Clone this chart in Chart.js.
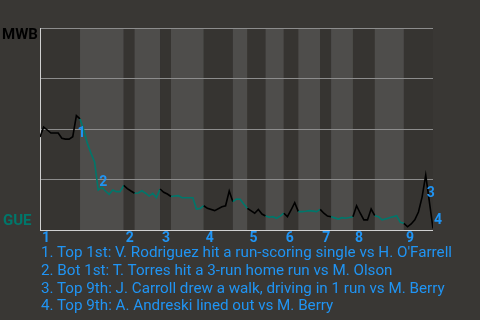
<!DOCTYPE html>
<html>
<head>
<meta charset="utf-8">
<script src="https://cdn.jsdelivr.net/npm/chart.js@4.4.1/dist/chart.umd.min.js"></script>
<style>
  html, body { margin: 0; padding: 0; background: #393734; }
  #wrap { position: relative; width: 480px; height: 320px; }
  #notes {
    position: absolute; left: 41px; top: 244px;
    font: 15.2px Roboto, sans-serif; line-height: 17.8px; color: #2094f3;
    white-space: nowrap;
  }
</style>
</head>
<body>
<div id="wrap">
  <canvas id="wpChart" width="480" height="320"></canvas>
  <div id="notes"></div>
</div>
<script>
// plate appearance index and MWB win probability
const paIndex = [0, 1, 3, 5, 6, 7, 8, 9, 10, 11, 12, 13, 14, 15, 16, 17, 18, 19, 20, 21, 22,
  23, 24, 25, 26, 27, 28, 29, 30, 31, 32, 33, 34, 35, 36, 37, 38, 39, 42, 43, 44,
  45, 46, 48, 50, 51, 52, 53, 54, 55, 56, 57, 59, 60, 61, 62, 63, 64, 65, 66, 67,
  68, 69, 70, 71, 72, 73, 74, 76, 77, 78, 79, 80, 81, 82, 83, 84, 86, 87, 88, 89,
  90, 91, 92, 93, 94, 95, 96, 97, 98, 99, 100, 101, 102, 103, 104, 105, 106, 107, 108];
const winProb = [0.46, 0.51, 0.48, 0.48, 0.454, 0.45, 0.45, 0.462, 0.566, 0.55, 0.495, 0.43, 0.38, 0.337, 0.198, 0.211, 0.193, 0.177, 0.198, 0.19, 0.19,
  0.221, 0.205, 0.193, 0.182, 0.183, 0.195, 0.182, 0.168, 0.182, 0.16, 0.203, 0.187, 0.178, 0.166, 0.168, 0.17, 0.16, 0.16, 0.104, 0.107,
  0.12, 0.107, 0.096, 0.115, 0.12, 0.193, 0.14, 0.153, 0.152, 0.129, 0.107, 0.083, 0.102, 0.079, 0.069, 0.063, 0.066, 0.058, 0.069, 0.083,
  0.066, 0.099, 0.135, 0.091, 0.091, 0.093, 0.096, 0.091, 0.102, 0.083, 0.069, 0.066, 0.06, 0.054, 0.061, 0.058, 0.066, 0.12, 0.083, 0.05,
  0.05, 0.104, 0.071, 0.066, 0.05, 0.055, 0.061, 0.066, 0.071, 0.038, 0.033, 0.016, 0.03, 0.05, 0.089, 0.163, 0.272, 0.14, 0.008];

// first PA of each half inning (top 1st, bot 1st, top 2nd, ...) plus the end
const halfStarts = [0, 11, 23, 26, 33, 36, 45, 53, 57, 62, 67, 71, 77, 80, 86, 92, 100, 108];
const innings = ['1', '2', '3', '4', '5', '6', '7', '8', '9'];

const eventPA = [10, 16, 106, 108];
const eventText = [
  '1. Top 1st: V. Rodriguez hit a run-scoring single vs H. O\'Farrell',
  '2. Bot 1st: T. Torres hit a 3-run home run vs M. Olson',
  '3. Top 9th: J. Carroll drew a walk, driving in 1 run vs M. Berry',
  '4. Top 9th: A. Andreski lined out vs M. Berry'
];

const awayTeam = 'MWB';
const homeTeam = 'GUE';

const BLUE = '#2094f3';
const TEAL = '#00776b';

document.getElementById('notes').innerHTML = eventText.map(t => `<div>${t}</div>`).join('');

function halfOf(x) {
  let k = 0;
  while (k < halfStarts.length - 2 && x >= halfStarts[k + 1]) k++;
  return k;
}

const gamePlugin = {
  id: 'game',
  beforeDraw(chart) {
    const { ctx, chartArea: a, scales: { x } } = chart;
    ctx.save();
    for (let k = 0; k < halfStarts.length - 1; k++) {
      const x0 = x.getPixelForValue(halfStarts[k]);
      const x1 = x.getPixelForValue(halfStarts[k + 1]);
      ctx.fillStyle = k % 2 === 0 ? '#363431' : '#4e4d4b';
      ctx.fillRect(x0, a.top, x1 - x0, a.bottom - a.top);
    }
    ctx.restore();
  },
  afterDatasetsDraw(chart) {
    const { ctx, chartArea: a, scales: { x, y } } = chart;
    ctx.save();
    // team labels
    ctx.font = 'bold 15px Roboto';
    ctx.textAlign = 'left';
    ctx.textBaseline = 'alphabetic';
    ctx.fillStyle = '#000';
    ctx.fillText(awayTeam, 2, a.top + 11);
    ctx.fillStyle = TEAL;
    ctx.fillText(homeTeam, 3, a.bottom - 5);

    // inning numbers
    ctx.font = 'bold 14px Roboto';
    ctx.fillStyle = BLUE;
    ctx.textBaseline = 'middle';
    innings.forEach((lab, i) => {
      ctx.fillText(lab, x.getPixelForValue(halfStarts[i * 2]) + 2, a.bottom + 8);
    });

    // event markers
    eventPA.forEach((pa, i) => {
      const j = paIndex.indexOf(pa);
      const px = x.getPixelForValue(pa);
      const py = y.getPixelForValue(winProb[j]);
      const up = j > 0 && winProb[j] > winProb[j - 1];
      ctx.fillText(String(i + 1), px + 1, up ? py + 18 : py - 8);
    });
    ctx.restore();
  }
};

new Chart(document.getElementById('wpChart'), {
  type: 'line',
  data: {
    datasets: [{
      data: paIndex.map((p, i) => ({ x: p, y: winProb[i] })),
      borderColor: '#000',
      borderWidth: 1.6,
      pointRadius: 0,
      tension: 0,
      segment: {
        borderColor: c => halfOf(c.p0.parsed.x) % 2 === 0 ? '#000' : TEAL
      }
    }]
  },
  options: {
    responsive: false,
    animation: false,
    layout: { padding: { left: 40, top: 28, right: 47, bottom: 90 } },
    plugins: { legend: { display: false }, tooltip: { enabled: false } },
    scales: {
      x: { type: 'linear', min: 0, max: 108, display: false },
      y: {
        min: 0, max: 1,
        ticks: { display: false, stepSize: 0.25 },
        grid: {
          drawTicks: false,
          color: c => c.tick.value === 0 ? '#d0d0d0' : '#8c8c8c',
          lineWidth: 1
        },
        border: { color: '#d0d0d0', width: 1 }
      }
    }
  },
  plugins: [gamePlugin]
});
</script>
</body>
</html>
